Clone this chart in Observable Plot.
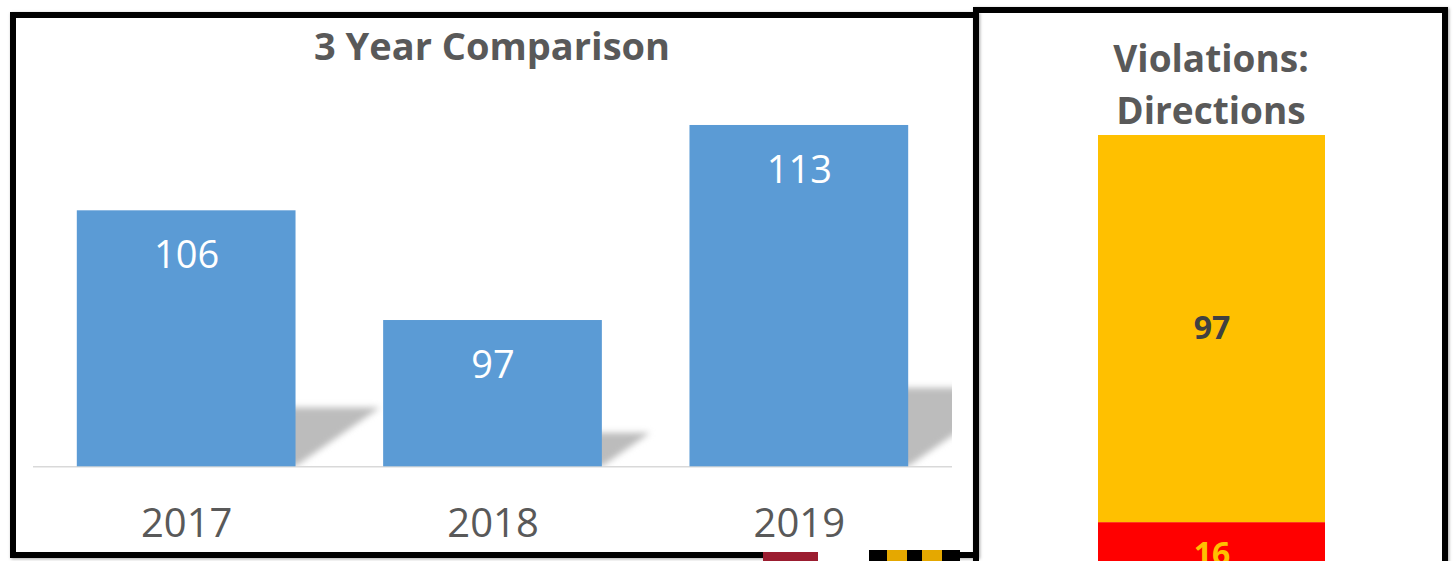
<!DOCTYPE html>
<html><head><meta charset="utf-8">
<script src="https://cdn.jsdelivr.net/npm/d3@7"></script>
<script src="https://cdn.jsdelivr.net/npm/@observablehq/plot@0.6"></script>
<style>
html,body{margin:0;padding:0;background:#fff;}
#stage{position:relative;width:1453px;height:561px;overflow:hidden;font-family:"Open Sans",sans-serif;background:#fff;}
.panel{position:absolute;border:6px solid #000;box-sizing:border-box;box-shadow:1px 1px 3px rgba(0,0,0,0.35);background:transparent;}
#leftPanel{left:10px;top:12px;width:969px;height:546px;}
#rightPanel{left:973px;top:7px;width:475px;height:620px;}
.title{position:absolute;font-weight:700;color:#595959;text-align:center;white-space:nowrap;font-size:38px;line-height:52px;}
.plotwrap{position:absolute;top:0;}
.deco{position:absolute;}
</style></head><body>
<div id="stage">
  <div class="plotwrap" id="rightPlot" style="left:981px;"></div>
  <div class="plotwrap" id="leftPlot" style="left:0px;"></div>
  <div class="title" style="left:192px;width:600px;top:19px;">3 Year Comparison</div>
  <div class="title" style="left:1011px;width:400px;top:32px;font-size:37px;">Violations:<br>Directions</div>
  <div class="panel" id="rightPanel"></div>
  <div class="panel" id="leftPanel"></div>
  <div class="deco" style="left:763px;top:552px;width:55px;height:9px;background:#9B1D30;"></div>
  <div class="deco" style="left:818px;top:549px;width:51px;height:12px;background:#fff;"></div>
  <div class="deco" style="left:869px;top:550px;width:91px;height:11px;background:linear-gradient(90deg,#000 0 18px,#E5A800 18px 38px,#000 38px 53px,#E5A800 53px 73px,#000 73px 91px);"></div>
</div>
<script>
// ---- data ----
const years = ["2017", "2018", "2019"];
const counts = [106, 97, 113];
const dirCategory = ["Directions"];
const dirTypes = ["Red", "Orange"];
const dirValues = [16, 97];

// ---- left chart: 3 Year Comparison ----
const yMin = 85;
const bars = years.map((y, i) => ({i, year: y, v: counts[i]}));
const half = 0.357;
const shadowPts = bars.flatMap(d => {
  const top = yMin + 0.23 * (d.v - yMin);
  const xr = d.i + half;
  const dxu = 0.01313 * (d.v - yMin);
  return [
    {z: d.i, x: xr - 0.05, y1: yMin, y2: top},
    {z: d.i, x: xr, y1: yMin, y2: top},
    {z: d.i, x: xr + dxu, y1: top, y2: top}
  ];
});

const left = Plot.plot({
  width: 975,
  height: 561,
  marginLeft: 33,
  marginRight: 23,
  marginTop: 100.6,
  marginBottom: 94.7,
  style: {background: "transparent", fontFamily: "Open Sans", overflow: "visible"},
  x: {domain: [-0.5, 2.5], axis: null},
  y: {domain: [yMin, 115], axis: null},
  marks: [
    Plot.areaY(shadowPts, {x: "x", y1: "y1", y2: "y2", z: "z", fill: "#bcbcbc", clip: true}),
    Plot.ruleY([yMin], {stroke: "#d9d9d9", strokeWidth: 1.5}),
    Plot.rectY(bars, {x1: d => d.i - half, x2: d => d.i + half, y1: yMin, y2: "v", fill: "#5B9BD5"}),
    Plot.text(bars, {x: "i", y: "v", text: d => String(d.v), dy: 45, fill: "white", fontSize: 38}),
    Plot.text(bars, {x: "i", y: yMin, text: "year", dy: 57, fill: "#595959", fontSize: 40})
  ]
});
left.querySelectorAll('g[aria-label="area"] path').forEach(p => p.style.filter = "blur(3px)");
document.getElementById("leftPlot").appendChild(left);

// ---- right chart: Violations: Directions ----
const stackData = dirTypes.map((t, k) => ({cat: dirCategory[0], type: t, v: dirValues[k]}));
const right = Plot.plot({
  width: 459,
  height: 600,
  marginLeft: 117,
  marginRight: 115,
  marginTop: 135,
  marginBottom: 14,
  style: {background: "transparent", fontFamily: "Open Sans", overflow: "visible"},
  x: {domain: dirCategory, padding: 0, axis: null},
  y: {domain: [0, dirValues[0] + dirValues[1]], axis: null},
  color: {type: "identity"},
  marks: [
    Plot.barY(stackData, {x: "cat", y: "v", fill: d => d.type === "Red" ? "#FF0000" : "#FFC000"}),
    Plot.text(stackData, Plot.stackY({x: "cat", y: "v", text: d => String(d.v),
      fill: d => d.type === "Red" ? "#FFC000" : "#404040", fontSize: 32, fontWeight: 700}))
  ]
});
document.getElementById("rightPlot").appendChild(right);
</script>
</body></html>
